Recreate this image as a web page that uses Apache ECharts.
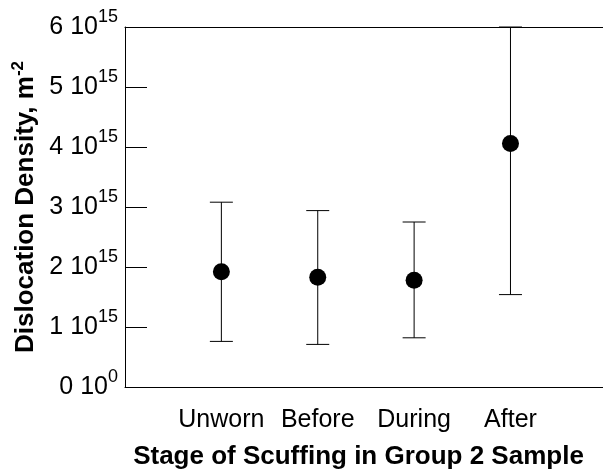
<!DOCTYPE html>
<html lang="en">
<head>
  <meta charset="UTF-8">
  <title>Dislocation density</title>
  <script src="https://cdn.jsdelivr.net/npm/echarts@6/dist/echarts.min.js"></script>
  <style>
    html, body { margin: 0; padding: 0; background: #fff; }
    #main { width: 603px; height: 471px; }
  </style>
</head>
<body>
  <div id="main"></div>
  <script>
    // stages along the x axis
    var stages = ['Unworn', 'Before', 'During', 'After'];
    // dislocation density (m^-2)
    var density = [1.92e15, 1.83e15, 1.78e15, 4.06e15];
    var errLow = [0.76e15, 0.71e15, 0.82e15, 1.54e15];
    var errHigh = [3.08e15, 2.94e15, 2.75e15, 6.0e15];
    var yTicks = [0, 1e15, 2e15, 3e15, 4e15, 5e15, 6e15];

    var font = 'Liberation Sans, Arial, sans-serif';

    var points = [];
    var bars = [];
    for (var i = 0; i < stages.length; i++) {
      points.push([i + 1, density[i]]);
      bars.push([i + 1, errLow[i], errHigh[i]]);
    }

    var chart = echarts.init(document.getElementById('main'));
    var option = {
      backgroundColor: '#fff',
      animation: false,
      grid: { left: 125, right: 0, top: 27, bottom: 84, outerBoundsMode: 'none' },
      xAxis: [
        {
          type: 'value',
          min: 0,
          max: 4.96,
          interval: 1,
          splitLine: { show: false },
          axisTick: { show: false },
          axisLine: { show: true, onZero: false, lineStyle: { color: '#000', width: 1 } },
          axisLabel: {
            margin: 21,
            color: '#000',
            fontFamily: font,
            fontSize: 25,
            formatter: function (v) {
              if (Math.abs(v - Math.round(v)) > 1e-6) return '';
              return stages[Math.round(v) - 1] || '';
            }
          },
          name: 'Stage of Scuffing in Group 2 Sample',
          nameLocation: 'middle',
          nameGap: 57,
          nameTextStyle: {
            color: '#000', fontFamily: font, fontSize: 26, fontWeight: 'bold',
            padding: [0, 11, 0, 0]
          }
        },
        {
          type: 'value',
          position: 'top',
          min: 0,
          max: 4.96,
          splitLine: { show: false },
          axisTick: { show: false },
          axisLabel: { show: false },
          axisLine: { show: true, onZero: false, lineStyle: { color: '#000', width: 1 } }
        }
      ],
      yAxis: {
        type: 'value',
        min: 0,
        max: 6e15,
        interval: 1e15,
        splitLine: { show: false },
        axisLine: { show: true, onZero: false, lineStyle: { color: '#000', width: 1 } },
        axisTick: { show: true, inside: true, length: 22, lineStyle: { color: '#000', width: 1 } },
        axisLabel: {
          margin: 7,
          color: '#000',
          fontFamily: font,
          formatter: function (v) {
            var n = Math.round(v / 1e15);
            var exp = n === 0 ? '0' : '15';
            return '{n|' + n + ' 10}{s|' + exp + '}';
          },
          rich: {
            n: { fontSize: 25, fontFamily: font, color: '#000' },
            s: { fontSize: 18, fontFamily: font, color: '#000', padding: [0, 0, 20, 0] }
          }
        },
        name: 'Dislocation Density, m{s|-2}',
        nameLocation: 'middle',
        nameGap: 84,
        nameRotate: 90,
        nameTextStyle: {
          color: '#000', fontFamily: font, fontSize: 26, fontWeight: 'bold',
          rich: {
            s: { fontSize: 17, fontFamily: font, fontWeight: 'bold', color: '#000', padding: [0, 0, 14, 0] }
          }
        }
      },
      series: [
        {
          type: 'custom',
          data: bars,
          z: 2,
          renderItem: function (params, api) {
            var x = api.value(0);
            var lo = api.coord([x, api.value(1)]);
            var hi = api.coord([x, api.value(2)]);
            var half = 11.5;
            var st = { stroke: '#000', lineWidth: 1 };
            return {
              type: 'group',
              children: [
                { type: 'line', shape: { x1: lo[0], y1: lo[1], x2: hi[0], y2: hi[1] }, style: st },
                { type: 'line', shape: { x1: lo[0] - half, y1: lo[1], x2: lo[0] + half, y2: lo[1] }, style: st },
                { type: 'line', shape: { x1: hi[0] - half, y1: hi[1], x2: hi[0] + half, y2: hi[1] }, style: st }
              ]
            };
          }
        },
        {
          type: 'scatter',
          data: points,
          z: 3,
          symbol: 'circle',
          symbolSize: 17,
          itemStyle: { color: '#000', opacity: 1 }
        }
      ]
    };
    chart.setOption(option);
    window.onresize = function () {
      chart.resize();
    };
  </script>
</body>
</html>
